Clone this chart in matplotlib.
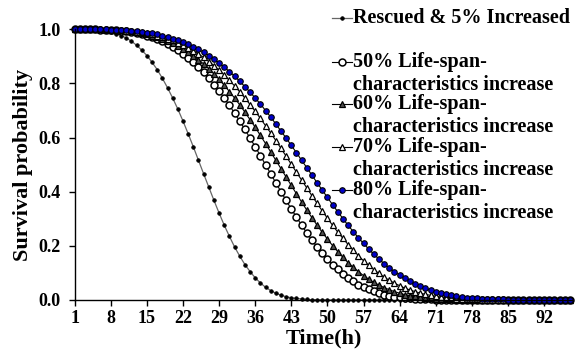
import matplotlib
matplotlib.use("Agg")
import matplotlib.pyplot as plt
from matplotlib.lines import Line2D

# time points (h), one per category on the axis
hours = list(range(1, 98))
tick_hours = [1, 8, 15, 22, 29, 36, 43, 50, 57, 64, 71, 78, 85, 92]

# survival probability
rescued = [
    1.000, 1.000, 1.000, 0.999, 0.998, 0.996, 0.994, 0.990, 0.984, 0.977,
    0.968, 0.956, 0.941, 0.923, 0.903, 0.878, 0.851, 0.819, 0.784, 0.746,
    0.705, 0.661, 0.614, 0.566, 0.516, 0.466, 0.417, 0.368, 0.321, 0.276,
    0.235, 0.196, 0.162, 0.131, 0.105, 0.082, 0.063, 0.047, 0.035, 0.025,
    0.018, 0.012, 0.008, 0.006, 0.004, 0.002, 0.001, 0.001, 0.0, 0.0,
    0.0, 0.0, 0.0, 0.0, 0.0, 0.0, 0.0, 0.0, 0.0, 0.0,
    0.0, 0.0, 0.0, 0.0, 0.0, 0.0, 0.0, 0.0, 0.0, 0.0,
    0.0, 0.0, 0.0, 0.0, 0.0, 0.0, 0.0, 0.0, 0.0, 0.0,
    0.0, 0.0, 0.0, 0.0, 0.0, 0.0, 0.0, 0.0, 0.0, 0.0,
    0.0, 0.0, 0.0, 0.0, 0.0, 0.0, 0.0,
]
inc50 = [
    1.000, 1.000, 1.000, 1.000, 1.000, 0.999, 0.999, 0.998, 0.996, 0.995,
    0.993, 0.990, 0.986, 0.982, 0.977, 0.971, 0.964, 0.956, 0.946, 0.935,
    0.923, 0.910, 0.895, 0.878, 0.860, 0.841, 0.819, 0.796, 0.772, 0.746,
    0.719, 0.690, 0.661, 0.630, 0.598, 0.566, 0.533, 0.500, 0.466, 0.433,
    0.400, 0.368, 0.336, 0.306, 0.276, 0.248, 0.221, 0.196, 0.173, 0.151,
    0.131, 0.113, 0.097, 0.082, 0.069, 0.057, 0.047, 0.039, 0.032, 0.025,
    0.020, 0.016, 0.012, 0.010, 0.007, 0.006, 0.004, 0.003, 0.002, 0.002,
    0.001, 0.001, 0.001, 0.0, 0.0, 0.0, 0.0, 0.0, 0.0, 0.0,
    0.0, 0.0, 0.0, 0.0, 0.0, 0.0, 0.0, 0.0, 0.0, 0.0,
    0.0, 0.0, 0.0, 0.0, 0.0, 0.0, 0.0,
]
inc60 = [
    1.000, 1.000, 1.000, 1.000, 1.000, 1.000, 0.999, 0.998, 0.997, 0.996,
    0.994, 0.992, 0.989, 0.986, 0.982, 0.977, 0.971, 0.965, 0.957, 0.949,
    0.939, 0.928, 0.916, 0.903, 0.888, 0.872, 0.854, 0.835, 0.815, 0.793,
    0.770, 0.746, 0.721, 0.694, 0.666, 0.638, 0.608, 0.578, 0.547, 0.516,
    0.485, 0.454, 0.423, 0.392, 0.362, 0.332, 0.304, 0.276, 0.250, 0.225,
    0.201, 0.179, 0.158, 0.138, 0.121, 0.105, 0.090, 0.077, 0.065, 0.055,
    0.046, 0.038, 0.031, 0.025, 0.020, 0.016, 0.013, 0.010, 0.008, 0.006,
    0.005, 0.004, 0.003, 0.002, 0.001, 0.001, 0.001, 0.001, 0.0, 0.0,
    0.0, 0.0, 0.0, 0.0, 0.0, 0.0, 0.0, 0.0, 0.0, 0.0,
    0.0, 0.0, 0.0, 0.0, 0.0, 0.0, 0.0,
]
inc70 = [
    1.000, 1.000, 1.000, 1.000, 1.000, 1.000, 1.000, 0.999, 0.998, 0.997,
    0.995, 0.993, 0.991, 0.989, 0.985, 0.981, 0.977, 0.972, 0.966, 0.959,
    0.951, 0.942, 0.932, 0.921, 0.909, 0.896, 0.881, 0.866, 0.849, 0.831,
    0.811, 0.791, 0.769, 0.746, 0.722, 0.697, 0.671, 0.644, 0.617, 0.589,
    0.560, 0.531, 0.501, 0.472, 0.443, 0.414, 0.385, 0.357, 0.329, 0.302,
    0.276, 0.251, 0.228, 0.205, 0.184, 0.164, 0.145, 0.128, 0.112, 0.098,
    0.084, 0.073, 0.062, 0.053, 0.044, 0.037, 0.031, 0.025, 0.021, 0.017,
    0.014, 0.011, 0.009, 0.007, 0.005, 0.004, 0.003, 0.002, 0.002, 0.001,
    0.001, 0.001, 0.001, 0.0, 0.0, 0.0, 0.0, 0.0, 0.0, 0.0,
    0.0, 0.0, 0.0, 0.0, 0.0, 0.0, 0.0,
]
inc80 = [
    1.000, 1.000, 1.000, 1.000, 1.000, 1.000, 1.000, 0.999, 0.998, 0.997,
    0.996, 0.995, 0.993, 0.991, 0.988, 0.985, 0.981, 0.977, 0.972, 0.966,
    0.960, 0.953, 0.945, 0.936, 0.926, 0.915, 0.903, 0.890, 0.875, 0.860,
    0.844, 0.827, 0.808, 0.788, 0.768, 0.746, 0.724, 0.700, 0.676, 0.650,
    0.624, 0.598, 0.571, 0.544, 0.516, 0.489, 0.461, 0.433, 0.406, 0.379,
    0.352, 0.326, 0.301, 0.276, 0.253, 0.230, 0.209, 0.188, 0.169, 0.151,
    0.134, 0.119, 0.105, 0.092, 0.080, 0.069, 0.059, 0.051, 0.043, 0.036,
    0.030, 0.025, 0.021, 0.017, 0.014, 0.011, 0.009, 0.007, 0.006, 0.005,
    0.004, 0.003, 0.002, 0.002, 0.001, 0.001, 0.001, 0.001, 0.0, 0.0,
    0.0, 0.0, 0.0, 0.0, 0.0, 0.0, 0.0,
]

labels = [
    "Rescued & 5% Increased",
    "50% Life-span-\ncharacteristics increase",
    "60% Life-span-\ncharacteristics increase",
    "70% Life-span-\ncharacteristics increase",
    "80% Life-span-\ncharacteristics increase",
]

plt.rcParams["font.family"] = "Liberation Serif"
plt.rcParams["font.weight"] = "bold"

styles = [
    dict(color="#666666", lw=0.9, marker="o", ms=2.6, mfc="black", mec="black", mew=0.5),
    dict(color="black", lw=0.8, marker="o", ms=5.0, mfc="white", mec="black", mew=1.1),
    dict(color="black", lw=0.8, marker="^", ms=5.0, mfc="#505050", mec="black", mew=0.9),
    dict(color="black", lw=0.8, marker="^", ms=5.0, mfc="white", mec="black", mew=0.9),
    dict(color="black", lw=0.8, marker="o", ms=4.0, mfc="#0000cc", mec="black", mew=0.8),
]
data = [rescued, inc50, inc60, inc70, inc80]

W, H = 576, 352
fig = plt.figure(figsize=(W / 100, H / 100), dpi=100)
ax = fig.add_axes([74.7 / W, 52 / H, 497.7 / W, 270.7 / H])

for vals, st in zip(data, styles):
    ax.plot(hours, vals, clip_on=False, **st)

ax.set_xlim(1, 97.5)
ax.set_ylim(0, 1.0)
ax.set_xticks(tick_hours)
ax.set_yticks([0.0, 0.2, 0.4, 0.6, 0.8, 1.0])
ax.set_yticklabels(["0.0", "0.2", "0.4", "0.6", "0.8", "1.0"])
for s in ["top", "right"]:
    ax.spines[s].set_visible(False)
for s in ["left", "bottom"]:
    ax.spines[s].set_linewidth(1.0)
ax.tick_params(direction="out", length=4, width=1, labelsize=13)
ax.tick_params(axis="y", pad=6)
ax.tick_params(axis="x", pad=3)

ax.set_xlabel("Time(h)", fontsize=16, fontweight="bold")
ax.set_ylabel("Survival probability", fontsize=16, fontweight="bold")
ax.xaxis.set_label_coords(0.5, -0.105)
ax.yaxis.set_label_coords(-0.083, 0.5)

# legend drawn by hand so each handle sits on the first text line
rows = [18, 62, 104, 147, 190]
for lab, st, y in zip(labels, styles, rows):
    yf = 1 - y / H
    fig.add_artist(Line2D([332 / W, 352 / W], [yf, yf], transform=fig.transFigure,
                          color=st["color"], lw=st["lw"]))
    fig.add_artist(Line2D([342 / W], [yf], transform=fig.transFigure, marker=st["marker"],
                          ms=st["ms"], mfc=st["mfc"], mec=st["mec"], mew=st["mew"], lw=0))
    lines = lab.split("\n")
    for i, part in enumerate(lines):
        fig.text(353 / W, 1 - (y + 23 * i) / H, part, fontsize=14.5, fontweight="bold",
                 va="center", ha="left")

fig.savefig("out.png", dpi=100)
